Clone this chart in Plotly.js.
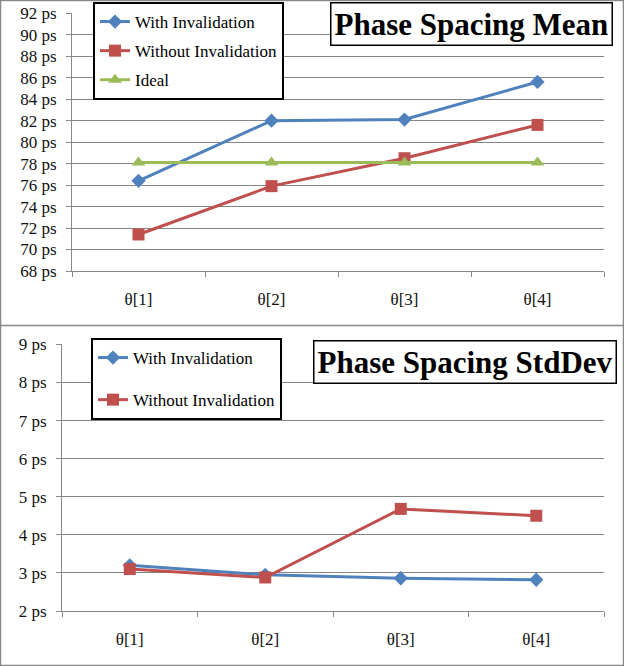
<!DOCTYPE html>
<html>
<head>
<meta charset="utf-8">
<script src="https://cdn.plot.ly/plotly-3.0.1.min.js"></script>
<style>html,body{margin:0;padding:0;background:#fff;}#chart{width:624px;height:666px;}</style>
</head>
<body>
<div id="chart"></div>
<script>
const categories = ['θ[1]', 'θ[2]', 'θ[3]', 'θ[4]'];
const meanWith = [76.4, 82.0, 82.1, 85.6];
const meanWithout = [71.4, 75.9, 78.5, 81.6];
const meanIdeal = [78.1, 78.1, 78.1, 78.1];
const stdWith = [3.2, 2.95, 2.86, 2.82];
const stdWithout = [3.1, 2.88, 4.68, 4.5];
const meanTicks = [68, 70, 72, 74, 76, 78, 80, 82, 84, 86, 88, 90, 92];
const stdTicks = [2, 3, 4, 5, 6, 7, 8, 9];
const seriesNames = ['With Invalidation', 'Without Invalidation', 'Ideal'];
const titles = ['Phase Spacing Mean', 'Phase Spacing StdDev'];

const W = 624, H = 666;
const blue = '#4F81BD', red = '#C0504D', green = '#9BBB59';
const serif = 'Liberation Serif';

function tr(y, name, color, symbol, size, xa, ya, leg, grp) {
  return {
    x: categories, y: y, name: name, type: 'scatter', mode: 'lines+markers',
    xaxis: xa, yaxis: ya, legend: leg, legendgroup: grp,
    line: {color: color, width: 3},
    marker: {color: color, symbol: symbol, size: size}
  };
}

const data = [
  tr(meanWith, seriesNames[0], blue, 'diamond', 11, 'x', 'y', 'legend', 'a'),
  tr(meanWithout, seriesNames[1], red, 'square', 12, 'x', 'y', 'legend', 'b'),
  tr(meanIdeal, seriesNames[2], green, 'triangle-up', 12, 'x', 'y', 'legend', 'c'),
  tr(stdWith, seriesNames[0], blue, 'diamond', 11, 'x2', 'y2', 'legend2', 'd'),
  tr(stdWithout, seriesNames[1], red, 'square', 12, 'x2', 'y2', 'legend2', 'e')
];

function tickFont() { return {family: serif, size: 17, color: '#111'}; }
function xaxis(domain, anchor) {
  return {
    domain: domain, anchor: anchor, type: 'category', range: [-0.5, 3.5],
    tickson: 'boundaries', ticks: 'outside', ticklen: 5, tickcolor: '#888',
    showline: true, linecolor: '#888', linewidth: 1, showgrid: false,
    tickfont: tickFont(), ticklabelstandoff: 13, fixedrange: true
  };
}
function yaxis(domain, anchor, range, ticks) {
  return {
    domain: domain, anchor: anchor, range: range,
    tickvals: ticks, ticktext: ticks.map(v => v + ' ps'),
    ticks: 'outside', ticklen: 5, tickcolor: '#888',
    showline: true, linecolor: '#888', linewidth: 1,
    showgrid: true, gridcolor: '#858585', gridwidth: 1, zeroline: false,
    tickfont: tickFont(), ticklabelstandoff: 6, fixedrange: true
  };
}

function legendBase() {
  return {
    xanchor: 'left', yanchor: 'top', bgcolor: '#fff',
    bordercolor: '#000', borderwidth: 2,
    font: {family: serif, size: 17, color: '#000'}
  };
}

const layout = {
  width: W, height: H,
  margin: {l: 0, r: 0, t: 0, b: 0},
  paper_bgcolor: '#fff', plot_bgcolor: '#fff',
  font: {family: serif},
  showlegend: true,
  xaxis: xaxis([72 / W, 604 / W], 'y'),
  yaxis: yaxis([1 - 271 / H, 1 - 13 / H], 'x', [68, 92.02], meanTicks),
  xaxis2: xaxis([62 / W, 604 / W], 'y2'),
  yaxis2: yaxis([1 - 611 / H, 1 - 344 / H], 'x2', [2, 9.01], stdTicks),
  legend: Object.assign(legendBase(), {x: 93 / W, y: 1 - 2 / H, tracegroupgap: 4}),
  legend2: Object.assign(legendBase(), {x: 91 / W, y: 1 - 338 / H, tracegroupgap: 17}),
  annotations: [
    {text: '<b>' + titles[0] + '</b>', xref: 'paper', yref: 'paper',
     x: 613 / W, y: 1 - 2 / H, xanchor: 'right', yanchor: 'top', showarrow: false,
     font: {family: serif, size: 31, color: '#000'}, bgcolor: '#fff',
     bordercolor: '#000', borderwidth: 1.5, borderpad: 3},
    {text: '<b>' + titles[1] + '</b>', xref: 'paper', yref: 'paper',
     x: 617 / W, y: 1 - 340 / H, xanchor: 'right', yanchor: 'top', showarrow: false,
     font: {family: serif, size: 31, color: '#000'}, bgcolor: '#fff',
     bordercolor: '#000', borderwidth: 1.5, borderpad: 3}
  ],
  shapes: [
    {type: 'rect', xref: 'paper', yref: 'paper', x0: 0.5 / W, x1: 1 - 0.5 / W, y0: 0.5 / H, y1: 1 - 0.5 / H,
     line: {color: '#888', width: 1.5}, layer: 'above'},
    {type: 'line', xref: 'paper', yref: 'paper', x0: 0, x1: 1, y0: 1 - 325.5 / H, y1: 1 - 325.5 / H,
     line: {color: '#888', width: 1.5}}
  ]
};

Plotly.newPlot('chart', data, layout, {displayModeBar: false, staticPlot: true});
</script>
</body>
</html>
